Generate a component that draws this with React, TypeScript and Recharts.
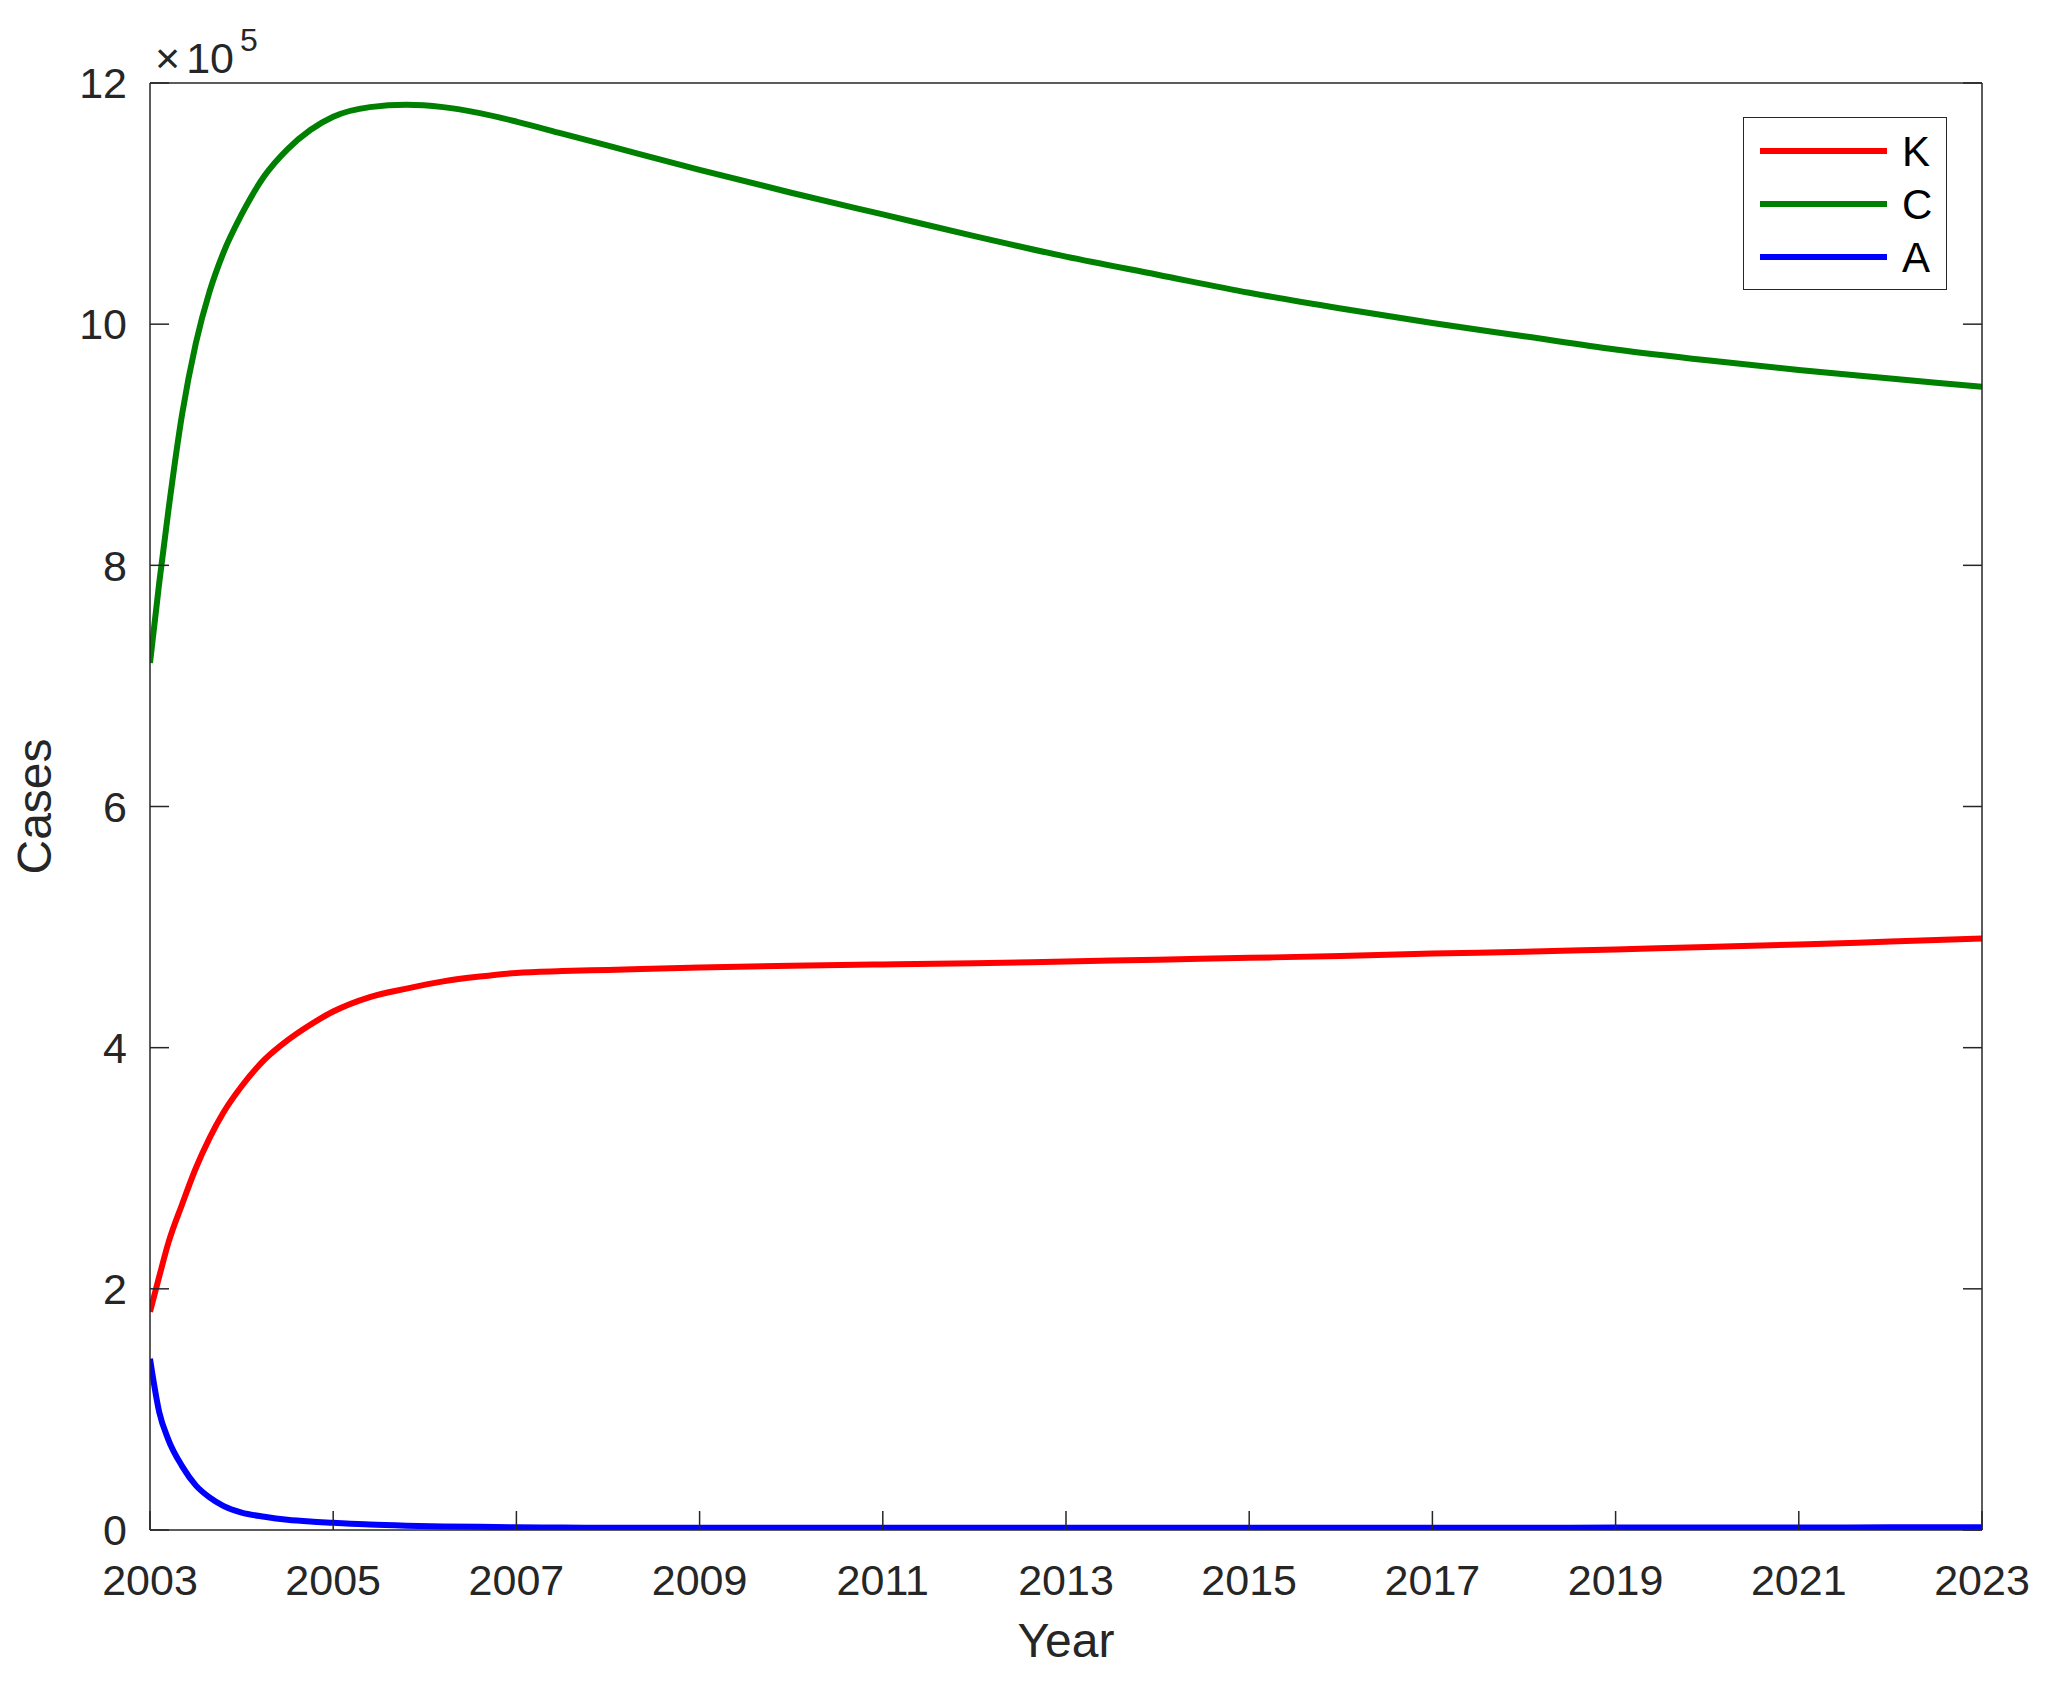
import React from "react";
import { LineChart, Line, XAxis, YAxis, Legend, Label } from "recharts";

// years sampled denser at the start where the curves bend
const years = [
  2003, 2003.1, 2003.2, 2003.35, 2003.5, 2003.65, 2003.8, 2004, 2004.25, 2004.5, 2004.75, 2005,
  2005.4, 2005.8, 2006.2, 2006.6, 2007, 2007.5, 2008, 2009, 2010, 2011, 2012, 2013, 2014, 2015,
  2016, 2017, 2018, 2019, 2020, 2021, 2022, 2023,
];

const kCases = [
  181000, 210000, 238000, 270000, 300000, 325000, 346000, 368000, 390000, 406000, 419000, 430000,
  442000, 449000, 455000, 459000, 462000, 463500, 464500, 466500, 468000, 469000, 470000, 471500,
  473000, 474500, 476000, 478000, 479500, 481500, 483500, 485500, 488000, 490500,
];

const cCases = [
  719000, 785000, 845000, 925000, 984000, 1027000, 1059000, 1091000, 1123000, 1145000, 1161000,
  1172000, 1180000, 1182000, 1180000, 1175000, 1168000, 1158000, 1148000, 1128000, 1109000,
  1091000, 1073000, 1056000, 1041000, 1026000, 1013000, 1001000, 990000, 979000, 970000, 962000,
  955000, 948000,
];

const aCases = [
  142000, 98000, 75000, 53000, 37000, 27000, 20000, 14500, 11000, 8500, 7000, 6000, 4500, 3600,
  3000, 2600, 2200, 2000, 1900, 1800, 1800, 1800, 1800, 1800, 1800, 1800, 1900, 1900, 1900, 2000,
  2000, 2100, 2200, 2300,
];

const yearTicks = [2003, 2005, 2007, 2009, 2011, 2013, 2015, 2017, 2019, 2021, 2023];
const caseTicks = [0, 200000, 400000, 600000, 800000, 1000000, 1200000];

const series = [
  { key: "K", color: "#ff0000" },
  { key: "C", color: "#008000" },
  { key: "A", color: "#0000ff" },
];

const rows = years.map((year, i) => ({ year, K: kCases[i], C: cCases[i], A: aCases[i] }));

const FONT = '"Liberation Sans", Arial, Helvetica, sans-serif';
const AXIS = "#262626";
const W = 2030;
const H = 1670;

const tickStyle = { fontSize: 43, fill: AXIS, fontFamily: FONT };

// legend keeps plot order (K, C, A) instead of recharts' sorted payload
const LegendBox = () => (
  <div
    style={{
      width: 202,
      height: 171,
      border: `1.5px solid ${AXIS}`,
      background: "#fff",
      position: "relative",
      fontFamily: FONT,
    }}
  >
    <svg width={202} height={171} style={{ position: "absolute", left: 0, top: 0 }}>
      {series.map((s, i) => (
        <g key={s.key}>
          <line x1={16} x2={143} y1={33 + i * 53} y2={33 + i * 53} stroke={s.color} strokeWidth={6} />
          <text x={158} y={33 + i * 53 + 15} fontSize={42} fill="#000" fontFamily={FONT}>
            {s.key}
          </text>
        </g>
      ))}
    </svg>
  </div>
);

const YTitle = ({ viewBox }: { viewBox?: { y: number; height: number } }) => {
  const cy = (viewBox?.y ?? 0) + (viewBox?.height ?? 0) / 2;
  return (
    <text
      transform={`translate(43, ${cy}) rotate(-90)`}
      textAnchor="middle"
      fontSize={48}
      fill={AXIS}
      fontFamily={FONT}
    >
      Cases
    </text>
  );
};

export default function App() {
  return (
    <div style={{ position: "relative", width: W, height: H, background: "#fff" }}>
      <LineChart width={W} height={H} data={rows} margin={{ top: 74, right: 55, bottom: 0, left: 0 }}>
        <XAxis
          dataKey="year"
          type="number"
          domain={[2003, 2023]}
          allowDataOverflow
          ticks={yearTicks}
          interval={0}
          height={148}
          tickSize={-19}
          tickMargin={53}
          tick={tickStyle}
          axisLine={{ stroke: AXIS, strokeWidth: 1.5 }}
          tickLine={{ stroke: AXIS, strokeWidth: 1.5 }}
        >
          <Label
            value="Year"
            position="insideBottom"
            offset={21}
            style={{ fontSize: 48, fill: AXIS, fontFamily: FONT }}
          />
        </XAxis>
        <XAxis
          xAxisId="top"
          orientation="top"
          type="number"
          domain={[2003, 2023]}
          allowDataOverflow
          ticks={yearTicks}
          interval={0}
          height={1}
          tickSize={-19}
          tickFormatter={() => ""}
          axisLine={{ stroke: AXIS, strokeWidth: 1.5 }}
          tickLine={{ stroke: AXIS, strokeWidth: 1.5 }}
        />
        <YAxis
          type="number"
          domain={[0, 1200000]}
          allowDataOverflow
          ticks={caseTicks}
          interval={0}
          width={142}
          tickSize={-19}
          tickMargin={42}
          tick={tickStyle}
          tickFormatter={(v: number) => String(v / 100000)}
          axisLine={{ stroke: AXIS, strokeWidth: 1.5 }}
          tickLine={{ stroke: AXIS, strokeWidth: 1.5 }}
          label={<YTitle />}
        />
        <YAxis
          yAxisId="right"
          orientation="right"
          type="number"
          domain={[0, 1200000]}
          allowDataOverflow
          ticks={caseTicks}
          interval={0}
          width={1}
          tickSize={-19}
          tickFormatter={() => ""}
          axisLine={{ stroke: AXIS, strokeWidth: 1.5 }}
          tickLine={{ stroke: AXIS, strokeWidth: 1.5 }}
        />
        <Legend
          layout="vertical"
          align="center"
          verticalAlign="middle"
          wrapperStyle={{ left: 1735, top: 109, width: 205, height: 174 }}
          content={<LegendBox />}
        />
        {series.map((s) => (
          <Line
            key={s.key}
            dataKey={s.key}
            name={s.key}
            type="monotone"
            stroke={s.color}
            strokeWidth={6}
            dot={false}
            activeDot={false}
            isAnimationActive={false}
          />
        ))}
      </LineChart>
      <svg
        width={400}
        height={100}
        style={{ position: "absolute", left: 0, top: 0, pointerEvents: "none" }}
      >
        <text x={147} y={65} fontSize={43} fill={AXIS} fontFamily={FONT}>
          <tspan>×</tspan>
          <tspan dx={6}>10</tspan>
          <tspan dx={6} dy={-22} fontSize={32}>
            5
          </tspan>
        </text>
      </svg>
    </div>
  );
}
